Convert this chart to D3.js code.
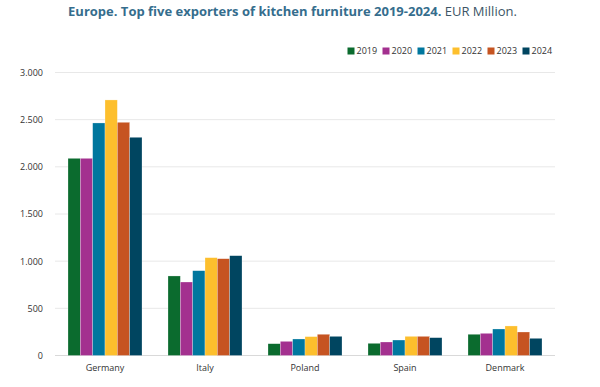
<script src="https://cdnjs.cloudflare.com/ajax/libs/d3/7.8.5/d3.min.js"></script>
<style>
  body { margin: 0; background: #fff; }
  text { font-family: "Open Sans", sans-serif; }
</style>
<div id="chart"></div>
<script>
  const countries = ["Germany", "Italy", "Poland", "Spain", "Denmark"];
  const years = ["2019", "2020", "2021", "2022", "2023", "2024"];
  const colors = ["#0b6b2e", "#a3308f", "#00779e", "#fdbf2d", "#c65421", "#004560"];
  // EUR million, one array per year, in country order
  const v2019 = [2090, 843, 125, 129, 225];
  const v2020 = [2090, 779, 150, 143, 235];
  const v2021 = [2465, 899, 175, 164, 281];
  const v2022 = [2709, 1037, 200, 203, 313];
  const v2023 = [2472, 1026, 225, 203, 249];
  const v2024 = [2313, 1058, 203, 189, 182];
  const yTicks = [0, 500, 1000, 1500, 2000, 2500, 3000];

  const series = [v2019, v2020, v2021, v2022, v2023, v2024];

  function draw() {
    const w = 600, h = 387;
    const m = {top: 72.5, right: 45, bottom: 31.5, left: 55};

    const svg = d3.select("#chart").append("svg")
      .attr("width", w)
      .attr("height", h);

    const x0 = d3.scaleBand().domain(countries).range([m.left, w - m.right]).paddingInner(0.26).paddingOuter(0.13);
    const x1 = d3.scaleBand().domain(years).range([0, x0.bandwidth()]);
    const y = d3.scaleLinear().domain([0, 3000]).range([h - m.bottom, m.top]);
    const fmt = d => d3.format(",")(d).replace(/,/g, ".");

    // gridlines
    svg.append("g")
      .selectAll("line")
      .data(yTicks)
      .join("line")
        .attr("x1", m.left)
        .attr("x2", w - m.right)
        .attr("y1", d => y(d))
        .attr("y2", d => y(d))
        .attr("stroke", d => d == 0 ? "#d9d9d9" : "#e8e8e8")
        .attr("stroke-width", 1);

    const yAxis = svg.append("g")
      .attr("transform", `translate(${m.left - 9},0)`)
      .call(d3.axisLeft(y).tickValues(yTicks).tickFormat(fmt).tickSize(0));
    yAxis.select(".domain").remove();
    yAxis.selectAll("text").attr("font-size", 9).attr("fill", "#333").attr("font-family", "Open Sans");

    const xAxis = svg.append("g")
      .attr("transform", `translate(0,${h - m.bottom + 6})`)
      .call(d3.axisBottom(x0).tickSize(0));
    xAxis.select(".domain").remove();
    xAxis.selectAll("text").attr("font-size", 9).attr("fill", "#333").attr("font-family", "Open Sans");

    // bars
    const groups = svg.append("g")
      .selectAll("g")
      .data(countries)
      .join("g")
        .attr("transform", d => `translate(${x0(d)},0)`);

    groups.selectAll("rect")
      .data((c, i) => years.map((yr, j) => ({year: yr, value: series[j][i], color: colors[j]})))
      .join("rect")
        .attr("x", d => x1(d.year))
        .attr("width", x1.bandwidth())
        .attr("y", d => y(d.value))
        .attr("height", d => y(0) - y(d.value))
        .attr("fill", d => d.color)
        .attr("stroke", "#fff")
        .attr("stroke-opacity", 0.5)
        .attr("stroke-width", 0.5);

    // title
    const title = svg.append("text")
      .attr("x", 292.5)
      .attr("y", 16)
      .attr("text-anchor", "middle")
      .attr("font-size", 13);
    title.append("tspan")
      .attr("font-weight", "bold")
      .attr("fill", "#356d8d")
      .text("Europe. Top five exporters of kitchen furniture 2019-2024.");
    title.append("tspan")
      .attr("fill", "#3d5566")
      .text(" EUR Million.");

    // legend
    const legend = svg.append("g")
      .selectAll("g")
      .data(years)
      .join("g")
        .attr("transform", (d, i) => `translate(${347.5 + i * 35},51)`);
    legend.append("rect")
      .attr("x", 0)
      .attr("y", -3.5)
      .attr("width", 7)
      .attr("height", 7)
      .attr("fill", (d, i) => colors[i]);
    legend.append("text")
      .attr("x", 9)
      .attr("y", 3.3)
      .attr("font-size", 9)
      .attr("fill", "#333")
      .text(d => d);
  }

  draw()
</script>
